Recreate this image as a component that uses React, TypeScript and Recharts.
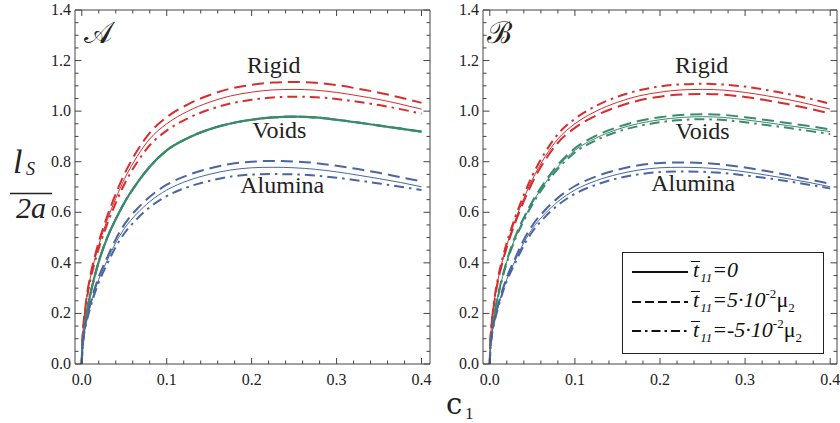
import React from 'react';
import { LineChart, Line, XAxis, YAxis, ReferenceDot, Legend } from 'recharts';

// concentration c1 sample points
const C = [0, 0.0005, 0.001, 0.002, 0.0035, 0.006, 0.01, 0.015, 0.02, 0.03, 0.04, 0.05, 0.065, 0.08, 0.1, 0.125, 0.15, 0.175, 0.2, 0.225, 0.25, 0.275, 0.3, 0.325, 0.35, 0.375, 0.4];

// t11 = 0 (shared by both panels)
const rigidZero = [0, 0.08, 0.11, 0.155, 0.2, 0.265, 0.34, 0.41, 0.47, 0.57, 0.655, 0.73, 0.82, 0.89, 0.95, 1.0, 1.035, 1.06, 1.075, 1.084, 1.086, 1.083, 1.074, 1.061, 1.046, 1.028, 1.008];
const voidsZero = [0, 0.055, 0.078, 0.11, 0.15, 0.205, 0.275, 0.345, 0.405, 0.5, 0.573, 0.637, 0.715, 0.78, 0.845, 0.894, 0.928, 0.951, 0.966, 0.975, 0.978, 0.975, 0.966, 0.955, 0.943, 0.931, 0.919];
const aluminaZero = [0, 0.055, 0.075, 0.105, 0.138, 0.178, 0.23, 0.287, 0.335, 0.41, 0.48, 0.535, 0.595, 0.642, 0.688, 0.725, 0.75, 0.767, 0.776, 0.778, 0.776, 0.77, 0.76, 0.747, 0.733, 0.718, 0.701];

// Panel A
const rigidA_pos = [0, 0.082, 0.113, 0.159, 0.205, 0.272, 0.349, 0.421, 0.483, 0.585, 0.673, 0.75, 0.842, 0.914, 0.976, 1.027, 1.063, 1.089, 1.104, 1.113, 1.115, 1.112, 1.103, 1.089, 1.073, 1.054, 1.033];
const rigidA_neg = [0, 0.078, 0.107, 0.151, 0.194, 0.258, 0.33, 0.399, 0.457, 0.554, 0.637, 0.71, 0.797, 0.865, 0.923, 0.972, 1.006, 1.03, 1.045, 1.054, 1.057, 1.055, 1.048, 1.037, 1.024, 1.008, 0.99];
const aluminaA_pos = [0, 0.057, 0.077, 0.108, 0.142, 0.183, 0.237, 0.296, 0.345, 0.422, 0.494, 0.551, 0.613, 0.661, 0.709, 0.747, 0.773, 0.791, 0.8, 0.803, 0.801, 0.795, 0.784, 0.771, 0.756, 0.739, 0.722];
const aluminaA_neg = [0, 0.053, 0.072, 0.101, 0.133, 0.172, 0.222, 0.277, 0.323, 0.396, 0.463, 0.516, 0.574, 0.62, 0.664, 0.7, 0.724, 0.741, 0.749, 0.751, 0.75, 0.745, 0.737, 0.726, 0.714, 0.701, 0.688];

// Panel B
const rigidB_pos = [0, 0.079, 0.108, 0.152, 0.197, 0.26, 0.334, 0.403, 0.462, 0.56, 0.644, 0.718, 0.806, 0.875, 0.934, 0.983, 1.017, 1.042, 1.057, 1.066, 1.068, 1.065, 1.056, 1.043, 1.028, 1.01, 0.991];
const rigidB_neg = [0, 0.082, 0.112, 0.158, 0.204, 0.271, 0.347, 0.419, 0.48, 0.582, 0.669, 0.745, 0.837, 0.909, 0.97, 1.021, 1.057, 1.082, 1.098, 1.106, 1.108, 1.105, 1.097, 1.084, 1.068, 1.05, 1.029];
const voidsB_pos = [0, 0.056, 0.079, 0.111, 0.152, 0.207, 0.278, 0.348, 0.409, 0.505, 0.579, 0.643, 0.722, 0.788, 0.853, 0.903, 0.937, 0.961, 0.976, 0.985, 0.988, 0.985, 0.976, 0.965, 0.953, 0.941, 0.928];
const voidsB_neg = [0, 0.054, 0.077, 0.109, 0.149, 0.203, 0.272, 0.342, 0.401, 0.495, 0.567, 0.631, 0.708, 0.772, 0.837, 0.885, 0.919, 0.941, 0.956, 0.965, 0.968, 0.965, 0.956, 0.945, 0.934, 0.922, 0.91];
const aluminaB_pos = [0, 0.056, 0.077, 0.108, 0.141, 0.182, 0.236, 0.294, 0.343, 0.42, 0.492, 0.548, 0.609, 0.657, 0.704, 0.742, 0.768, 0.786, 0.795, 0.797, 0.795, 0.788, 0.777, 0.763, 0.747, 0.73, 0.713];
const aluminaB_neg = [0, 0.054, 0.073, 0.103, 0.135, 0.174, 0.225, 0.281, 0.328, 0.401, 0.469, 0.523, 0.582, 0.628, 0.673, 0.709, 0.734, 0.75, 0.759, 0.761, 0.76, 0.755, 0.746, 0.735, 0.723, 0.709, 0.694];

// ticks
const xTicks = [0, 0.02, 0.04, 0.06, 0.08, 0.1, 0.12, 0.14, 0.16, 0.18, 0.2, 0.22, 0.24, 0.26, 0.28, 0.3, 0.32, 0.34, 0.36, 0.38, 0.4];
const xMajor = [0, 0.1, 0.2, 0.3, 0.4];
const xMajorLabels = ['0.0', '0.1', '0.2', '0.3', '0.4'];
const yTicks = [0, 0.05, 0.1, 0.15, 0.2, 0.25, 0.3, 0.35, 0.4, 0.45, 0.5, 0.55, 0.6, 0.65, 0.7, 0.75, 0.8, 0.85, 0.9, 0.95, 1.0, 1.05, 1.1, 1.15, 1.2, 1.25, 1.3, 1.35, 1.4];
const yMajor = [0, 0.2, 0.4, 0.6, 0.8, 1.0, 1.2, 1.4];
const yMajorLabels = ['0.0', '0.2', '0.4', '0.6', '0.8', '1.0', '1.2', '1.4'];

// annotations [label, c, value]
const labelsA: [string, number, number][] = [['Rigid', 0.226, 1.152], ['Voids', 0.2326, 0.892], ['Alumina', 0.236, 0.677]];
const labelsB: [string, number, number][] = [['Rigid', 0.249, 1.149], ['Voids', 0.25, 0.888], ['Alumina', 0.239, 0.685]];

// legend
const legendCoef = ['0', '5·10', '-5·10'];
const legendExp = ['', '-2', '-2'];
const legendUnit = ['', 'μ', 'μ'];
const legendDash = ['', '9 4', '9 4 2.5 4'];

const RED = '#d62d2f';
const GREEN = '#3a8a6c';
const BLUE = '#4a66a0';
const FRAME = '#444';
const FONT = '"Liberation Serif", "Times New Roman", serif';
const DASH = '12 6';
const DASHDOT = '10 5 2.5 5';

const dataA = C.map((c, i) => ({
  c,
  rZ: rigidZero[i], rP: rigidA_pos[i], rN: rigidA_neg[i],
  vZ: voidsZero[i], vP: voidsZero[i], vN: voidsZero[i],
  aZ: aluminaZero[i], aP: aluminaA_pos[i], aN: aluminaA_neg[i],
}));
const dataB = C.map((c, i) => ({
  c,
  rZ: rigidZero[i], rP: rigidB_pos[i], rN: rigidB_neg[i],
  vZ: voidsZero[i], vP: voidsB_pos[i], vN: voidsB_neg[i],
  aZ: aluminaZero[i], aP: aluminaB_pos[i], aN: aluminaB_neg[i],
}));

const majorIndex = (v: number, arr: number[]) => arr.findIndex((m) => Math.abs(m - v) < 1e-9);

const BottomTick = (props: any) => {
  const { x, y, payload } = props;
  const idx = majorIndex(payload.value, xMajor);
  const len = idx >= 0 ? 6 : 3.5;
  return (
    <g>
      <line x1={x} x2={x} y1={y} y2={y - len} stroke={FRAME} strokeWidth={1} />
      {idx >= 0 && (
        <text x={x} y={y + 21} textAnchor="middle" fontFamily={FONT} fontSize={16} fill="#222">{xMajorLabels[idx]}</text>
      )}
    </g>
  );
};
const TopTick = (props: any) => {
  const { x, y, payload } = props;
  const idx = majorIndex(payload.value, xMajor);
  const len = idx >= 0 ? 6 : 3.5;
  return <line x1={x} x2={x} y1={y} y2={y + len} stroke={FRAME} strokeWidth={1} />;
};
const LeftTick = (props: any) => {
  const { x, y, payload } = props;
  const idx = majorIndex(payload.value, yMajor);
  const len = idx >= 0 ? 6.5 : 3.5;
  return (
    <g>
      <line x1={x} x2={x + len} y1={y} y2={y} stroke={FRAME} strokeWidth={1} />
      {idx >= 0 && (
        <text x={x - 4} y={y + 5} textAnchor="end" fontFamily={FONT} fontSize={16} fill="#222">{yMajorLabels[idx]}</text>
      )}
    </g>
  );
};
const RightTick = (props: any) => {
  const { x, y, payload } = props;
  const idx = majorIndex(payload.value, yMajor);
  const len = idx >= 0 ? 6.5 : 3.5;
  return <line x1={x} x2={x - len} y1={y} y2={y} stroke={FRAME} strokeWidth={1} />;
};

const TextShape = (label: string) => (props: any) => (
  <text x={props.cx} y={props.cy} textAnchor="middle" fontFamily={FONT} fontSize={24} fill="#222">{label}</text>
);

const LegendBox = () => (
  <div style={{ boxSizing: 'border-box', width: 202, height: 102, border: '1px solid #222', background: '#fff', padding: '4px 0 0 9px', fontFamily: FONT, fontStyle: 'italic', fontSize: 22, color: '#111' }}>
    {legendCoef.map((coef, i) => (
      <div key={i} style={{ display: 'flex', alignItems: 'center', height: 29.7, whiteSpace: 'nowrap' }}>
        <svg width={56} height={10} style={{ flex: 'none' }}>
          <line x1={0} x2={56} y1={5} y2={5} stroke="#111" strokeWidth={2} strokeDasharray={legendDash[i] || undefined} />
        </svg>
        <span style={{ marginLeft: 3, lineHeight: '22px' }}>
          <span style={{ display: 'inline-block', borderTop: '1.5px solid #111', lineHeight: '16px', padding: '0 1px 0 2px' }}>t</span>
          <span style={{ fontSize: 13, position: 'relative', top: 5 }}>11</span>
          ={coef}
          {legendExp[i] && <span style={{ fontSize: 13, position: 'relative', top: -9, fontStyle: 'normal' }}>{legendExp[i]}</span>}
          {legendUnit[i] && <span style={{ fontStyle: 'normal' }}>{legendUnit[i]}</span>}
          {legendUnit[i] && <span style={{ fontSize: 13, position: 'relative', top: 5, fontStyle: 'normal' }}>2</span>}
        </span>
      </div>
    ))}
  </div>
);

const Panel = ({ data, labels, domainMax, margin, width, showLegend, thickVoids }: any) => (
  <LineChart width={width} height={423} data={data} margin={margin}>
    <XAxis xAxisId="b" type="number" dataKey="c" domain={[-0.008, domainMax]} allowDataOverflow ticks={xTicks} interval={0}
      height={1} tickSize={0} tickMargin={0} tickLine={false} axisLine={{ stroke: FRAME }} tick={<BottomTick />} />
    <XAxis xAxisId="t" orientation="top" type="number" dataKey="c" domain={[-0.008, domainMax]} allowDataOverflow ticks={xTicks} interval={0}
      height={1} tickSize={0} tickMargin={0} tickLine={false} axisLine={{ stroke: FRAME }} tick={<TopTick />} />
    <YAxis yAxisId="l" type="number" domain={[0, 1.4]} allowDataOverflow ticks={yTicks} interval={0}
      width={1} tickSize={0} tickMargin={0} tickLine={false} axisLine={{ stroke: FRAME }} tick={<LeftTick />} />
    <YAxis yAxisId="r" orientation="right" type="number" domain={[0, 1.4]} allowDataOverflow ticks={yTicks} interval={0}
      width={1} tickSize={0} tickMargin={0} tickLine={false} axisLine={{ stroke: FRAME }} tick={<RightTick />} />
    {[
      ['rZ', RED, 1, ''], ['rP', RED, 2, DASH], ['rN', RED, 2, DASHDOT],
      ['vZ', GREEN, thickVoids ? 2.2 : 1, ''], ['vP', GREEN, 2, DASH], ['vN', GREEN, 2, DASHDOT],
      ['aZ', BLUE, 1, ''], ['aP', BLUE, 2, DASH], ['aN', BLUE, 2, DASHDOT],
    ].map(([key, color, w, dash]: any) => (
      <Line key={key} xAxisId="b" yAxisId="l" type="monotone" dataKey={key} stroke={color} strokeWidth={w}
        strokeDasharray={dash || undefined} dot={false} activeDot={false} isAnimationActive={false} legendType="none" />
    ))}
    {labels.map(([text, c, v]: [string, number, number]) => (
      <ReferenceDot key={text} xAxisId="b" yAxisId="l" x={c} y={v} r={0} shape={TextShape(text)} ifOverflow="visible" />
    ))}
    {showLegend && (
      <Legend layout="vertical" align="center" verticalAlign="middle"
        wrapperStyle={{ left: 182, top: 252, width: 202, height: 102 }} content={() => <LegendBox />} />
    )}
  </LineChart>
);

export default function App() {
  return (
    <div style={{ position: 'absolute', left: 0, top: 0, width: 840, height: 423, background: '#fff', overflow: 'hidden' }}>
      <div style={{ position: 'absolute', left: 0, top: 0 }}>
        <Panel data={dataA} labels={labelsA} domainMax={0.41} width={440}
          margin={{ top: 9, right: 9, bottom: 58, left: 74 }} showLegend={false} thickVoids={true} />
      </div>
      <div style={{ position: 'absolute', left: 440, top: 0 }}>
        <Panel data={dataB} labels={labelsB} domainMax={0.408} width={400}
          margin={{ top: 9, right: 2, bottom: 58, left: 42 }} showLegend={true} thickVoids={false} />
      </div>
      <svg width={840} height={423} style={{ position: 'absolute', left: 0, top: 0, pointerEvents: 'none' }}>
        <text x={13} y={173} fontFamily={FONT} fontStyle="italic" fontSize={34} fill="#222">l</text>
        <text x={26} y={175} fontFamily={FONT} fontStyle="italic" fontSize={18} fill="#222">S</text>
        <line x1={10} x2={52} y1={193.5} y2={193.5} stroke="#222" strokeWidth={1.6} />
        <text x={16} y={218} fontFamily={FONT} fontStyle="italic" fontSize={30} fill="#222">2a</text>
        <text x={446} y={413.5} fontFamily='"DejaVu Serif", serif' fontSize={29} fill="#222">c</text>
        <text x={465} y={419} fontFamily={FONT} fontSize={17} fill="#222">1</text>
        <text x={84} y={43} fontFamily={FONT} fontSize={30} fill="#222">𝒜</text>
        <text x={487} y={43} fontFamily={FONT} fontSize={30} fill="#222">ℬ</text>
      </svg>
    </div>
  );
}
